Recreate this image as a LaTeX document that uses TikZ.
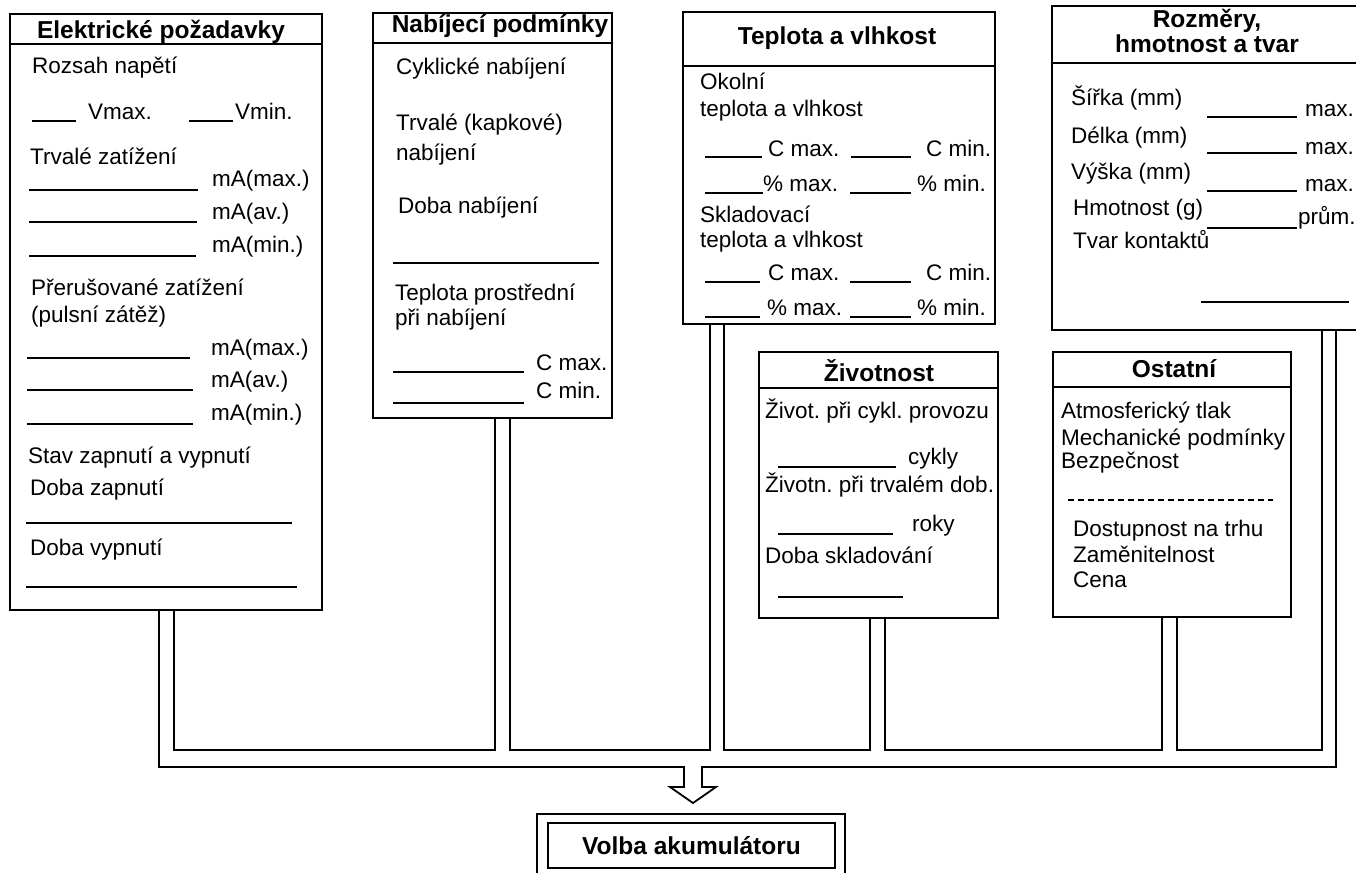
\documentclass[tikz,border=0pt]{standalone}
\usepackage{fontspec}
\setmainfont{Liberation Sans}
\usepackage{tikz}
\usetikzlibrary{calc}
\frenchspacing
\newcommand\txtf{\fontsize{22.5}{27}\selectfont}
\newcommand\hdf{\fontsize{24.5}{28}\selectfont\bfseries}
\newcommand\blankln[3]{\draw[ul] (#1,#3) -- (#2,#3);}
\begin{document}
\begin{tikzpicture}[x=1pt,y=-1pt,
  panel/.style={draw,line width=1.8pt,anchor=north west,inner sep=0pt,outer sep=0pt},
  wire/.style={line width=1.8pt},
  ul/.style={line width=1.7pt},
  lbl/.style={anchor=base west,inner sep=0pt,font=\txtf},
  hd/.style={anchor=base,inner sep=0pt,font=\hdf},
]
\useasboundingbox (0,0) rectangle (1356,872);
\fill[white] (0,0) rectangle (1356,872);

% boxes
\node[panel,minimum width=312,minimum height=596] (elek) at (10,14) {};
\node[panel,minimum width=239,minimum height=405] (nab)  at (373,13) {};
\node[panel,minimum width=312,minimum height=312] (tep)  at (683,12) {};
\node[panel,minimum width=310,minimum height=324] (roz)  at (1052,6) {};
\node[panel,minimum width=239,minimum height=266] (ziv)  at (759,352) {};
\node[panel,minimum width=238,minimum height=265] (ost)  at (1053,352) {};
\foreach \b/\h in {elek/30,nab/30,tep/54,roz/57,ziv/36,ost/35}
  \draw[wire] ($(\b.north west)+(0,\h)$) -- ($(\b.north east)+(0,\h)$);

% titles
\node[hd] (elek-t) at (161,39) {Elektrické požadavky};
\node[hd] (nab-t)  at (500,33) {Nabíjecí podmínky};
\node[hd] (tep-t)  at (837,45) {Teplota a vlhkost};
\node[hd] (roz-t1) at (1207,28) {Rozměry,};
\node[hd] (roz-t2) at (1207,53) {hmotnost a tvar};
\node[hd] (ziv-t)  at (879,381) {Životnost};
\node[hd] (ost-t)  at (1174,377) {Ostatní};

% Elektricke pozadavky
\node[lbl] (e-roz)  at (32,74)  {Rozsah napětí};
\node[lbl] (e-vmax) at (88,120) {Vmax.};
\node[lbl] (e-vmin) at (235,120) {Vmin.};
\node[lbl] (e-trv)  at (30,164) {Trvalé zatížení};
\node[lbl] (e-t1)   at (212,186) {mA(max.)};
\node[lbl] (e-t2)   at (212,219) {mA(av.)};
\node[lbl] (e-t3)   at (212,252) {mA(min.)};
\node[lbl] (e-pre)  at (31,295) {Přerušované zatížení};
\node[lbl] (e-pul)  at (31,322) {(pulsní zátěž)};
\node[lbl] (e-p1)   at (211,355) {mA(max.)};
\node[lbl] (e-p2)   at (211,387) {mA(av.)};
\node[lbl] (e-p3)   at (211,420) {mA(min.)};
\node[lbl] (e-stav) at (28,463) {Stav zapnutí a vypnutí};
\node[lbl] (e-zap)  at (30,495) {Doba zapnutí};
\node[lbl] (e-vyp)  at (30,555) {Doba vypnutí};
\blankln{32}{76}{121} \blankln{189}{233}{121}
\blankln{29}{198}{190} \blankln{29}{197}{222} \blankln{29}{196}{256}
\blankln{27}{190}{358} \blankln{27}{193}{390} \blankln{27}{193}{424}
\blankln{26}{292}{523} \blankln{26}{297}{587}

% Nabijeci podminky
\node[lbl] (n-cyk) at (396,75)  {Cyklické nabíjení};
\node[lbl] (n-trv) at (396,130) {Trvalé (kapkové)};
\node[lbl] (n-nab) at (396,160) {nabíjení};
\node[lbl] (n-dob) at (398,213) {Doba nabíjení};
\node[lbl] (n-tep) at (395,300) {Teplota prostřední};
\node[lbl] (n-pri) at (395,325) {při nabíjení};
\node[lbl] (n-max) at (536,370) {C max.};
\node[lbl] (n-min) at (536,398) {C min.};
\blankln{393}{599}{263} \blankln{393}{524}{372} \blankln{393}{524}{403}

% Teplota a vlhkost
\node[lbl] (t-oko) at (700,90)  {Okolní};
\node[lbl] (t-tv1) at (700,117) {teplota a vlhkost};
\node[lbl] (t-c1)  at (768,156) {C max.};
\node[lbl] (t-c2)  at (926,156) {C min.};
\node[lbl] (t-h1)  at (763,191) {\% max.};
\node[lbl] (t-h2)  at (917,191) {\% min.};
\node[lbl] (t-skl) at (700,222) {Skladovací};
\node[lbl] (t-tv2) at (700,247) {teplota a vlhkost};
\node[lbl] (t-c3)  at (768,280) {C max.};
\node[lbl] (t-c4)  at (926,280) {C min.};
\node[lbl] (t-h3)  at (767,315) {\% max.};
\node[lbl] (t-h4)  at (917,315) {\% min.};
\blankln{705}{762}{157} \blankln{851}{911}{157}
\blankln{705}{763}{193} \blankln{850}{911}{193}
\blankln{705}{760}{282} \blankln{850}{911}{282}
\blankln{705}{760}{317} \blankln{850}{911}{317}

% Rozmery
\node[lbl] (r-sir) at (1071,106) {Šířka (mm)};
\node[lbl] (r-del) at (1071,143) {Délka (mm)};
\node[lbl] (r-vys) at (1071,179) {Výška (mm)};
\node[lbl] (r-hmo) at (1073,215) {Hmotnost (g)};
\node[lbl] (r-tva) at (1073,248) {Tvar kontaktů};
\node[lbl] (r-m1)  at (1305,117) {max.};
\node[lbl] (r-m2)  at (1305,154) {max.};
\node[lbl] (r-m3)  at (1305,191) {max.};
\node[lbl] (r-pr)  at (1298,224) {prům.};
\blankln{1207}{1297}{117} \blankln{1207}{1297}{153}
\blankln{1207}{1297}{191} \blankln{1207}{1297}{228}
\blankln{1201}{1349}{302}

% Zivotnost
\node[lbl] (z-cyk) at (765,418) {Život. při cykl. provozu};
\node[lbl] (z-cy)  at (908,464) {cykly};
\node[lbl] (z-trv) at (765,492) {Životn. při trvalém dob.};
\node[lbl] (z-ro)  at (912,531) {roky};
\node[lbl] (z-skl) at (765,563) {Doba skladování};
\blankln{778}{896}{467} \blankln{778}{893}{534} \blankln{778}{903}{597}

% Ostatni
\node[lbl] (o-atm) at (1061,418) {Atmosferický tlak};
\node[lbl] (o-mec) at (1061,445) {Mechanické podmínky};
\node[lbl] (o-bez) at (1061,468) {Bezpečnost};
\draw[ul,dash pattern=on 6pt off 4pt] (1068,500) -- (1273,500);
\node[lbl] (o-dos) at (1073,536) {Dostupnost na trhu};
\node[lbl] (o-zam) at (1073,562) {Zaměnitelnost};
\node[lbl] (o-cen) at (1073,587) {Cena};

% result
\node[panel,minimum width=308,minimum height=70] (volba) at (537,814) {};
\node[panel,minimum width=287,minimum height=45,font=\hdf] (volba-in) at (548,823) {Volba akumulátoru};

% double-line channel
\path (elek.south west) ++(149,0) coordinate (e1) ++(15,0) coordinate (e2)
      (nab.south west)  ++(122,0) coordinate (n1) ++(15,0) coordinate (n2)
      (tep.south west)  ++(27,0)  coordinate (t1) ++(14,0) coordinate (t2)
      (ziv.south west)  ++(111,0) coordinate (z1) ++(15,0) coordinate (z2)
      (ost.south west)  ++(109,0) coordinate (o1) ++(15,0) coordinate (o2)
      (roz.south west)  ++(270,0) coordinate (r1) ++(14,0) coordinate (r2);
\coordinate (bus) at (0,750);
\coordinate (tip) at (693,803);
\foreach \p/\q in {e2/n1,n2/t1,t2/z1,z2/o1,o2/r1}
  \draw[wire] (\p) |- (bus -| \q) -- (\q);
\draw[wire] (e1) |- ($(tip)+(-9,-36)$) -- ++(0,20) -- ++(-14,0) -- (tip)
  -- ++(23,-16) -- ++(-14,0) -- ++(0,-20) -| (r2);
\end{tikzpicture}
\end{document}
